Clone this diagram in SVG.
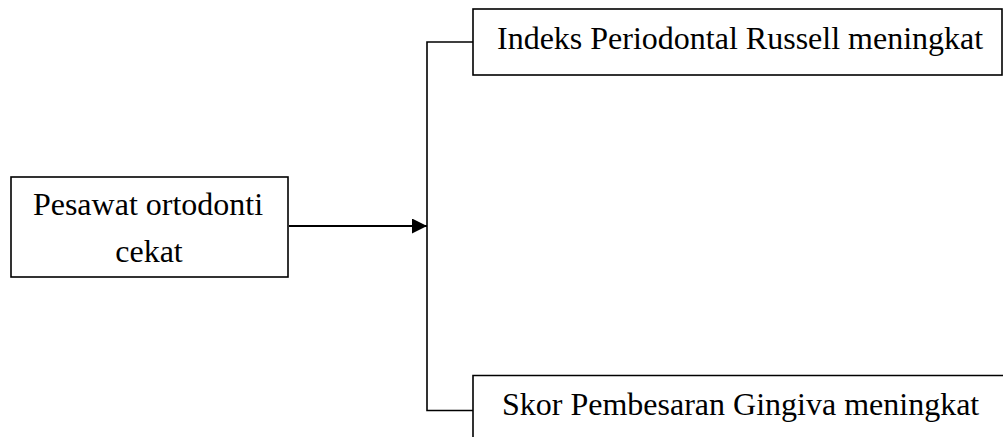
<svg xmlns="http://www.w3.org/2000/svg" width="1003" height="437" viewBox="0 0 1003 437">
<style>
.box{fill:#fff;stroke:#000;stroke-width:1.6}
.t{font-family:"Liberation Serif","Times New Roman",serif;font-size:32px;fill:#000}
.c{fill:none;stroke:#000;stroke-width:1.6}
</style>
<defs>
<marker id="ah" markerWidth="15" markerHeight="15" refX="15" refY="7.5" orient="auto" markerUnits="userSpaceOnUse" viewBox="0 0 15 15">
<path d="M0,0 L15,7.5 L0,15 z" fill="#000"/>
</marker>
</defs>
<rect width="1003" height="437" fill="#fff"/>
<g id="connectors">
<path class="c" d="M473,42 H427 V410.5 H473"/>
<line x1="289" y1="226" x2="427" y2="226" stroke="#000" stroke-width="2" marker-end="url(#ah)"/>
</g>
<g id="node-pesawat">
<rect class="box" x="11" y="177" width="277" height="100"/>
<text class="t" x="148" y="215" text-anchor="middle">Pesawat ortodonti</text>
<text class="t" x="149" y="262" text-anchor="middle">cekat</text>
</g>
<g id="node-indeks">
<rect class="box" x="473" y="9" width="529" height="66"/>
<text class="t" x="497" y="49">Indeks Periodontal Russell meningkat</text>
</g>
<g id="node-skor">
<path class="box" d="M473,440 V375.5 H1010"/>
<text class="t" x="502" y="415">Skor Pembesaran Gingiva meningkat</text>
</g>
</svg>
